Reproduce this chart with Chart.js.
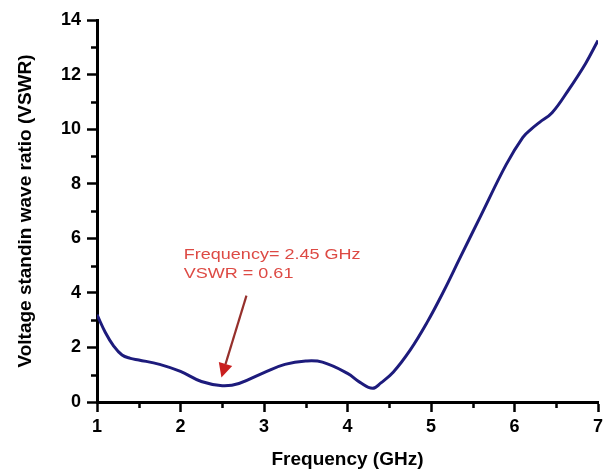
<!DOCTYPE html>
<html>
<head>
<meta charset="utf-8">
<script src="https://cdn.jsdelivr.net/npm/chart.js@4/dist/chart.umd.min.js"></script>
<style>
  html, body { margin: 0; padding: 0; background: #fff; }
  #wrap { width: 608px; height: 475px; }
</style>
</head>
<body>
<div id="wrap"><canvas id="c" width="608" height="475"></canvas></div>
<script>
// Frequency (GHz)
const frequency = [1.0, 1.1, 1.2, 1.3, 1.4, 1.5, 1.75, 2.0, 2.25, 2.5, 2.7, 3.0, 3.25, 3.5, 3.7, 4.0, 4.15, 4.3, 4.4, 4.55, 4.75, 4.95, 5.15, 5.35, 5.6, 5.9, 6.1, 6.2, 6.3, 6.45, 6.65, 6.85, 7.0];
// VSWR
const vswr = [3.2, 2.55, 2.05, 1.72, 1.6, 1.54, 1.38, 1.12, 0.75, 0.6, 0.68, 1.08, 1.38, 1.5, 1.46, 1.05, 0.72, 0.5, 0.7, 1.1, 1.9, 2.9, 4.05, 5.3, 6.85, 8.7, 9.7, 10.0, 10.25, 10.6, 11.45, 12.4, 13.25];
const xTicks = [1, 2, 3, 4, 5, 6, 7];
const yTicks = [0, 2, 4, 6, 8, 10, 12, 14];
const xMinor = [1.5, 2.5, 3.5, 4.5, 5.5, 6.5];
const yMinor = [1, 3, 5, 7, 9, 11, 13];
const annotationLines = ["Frequency= 2.45 GHz", "VSWR = 0.61"];
const annotationAt = { x: 2.04, y: 5.4 };
const arrowFrom = { x: 2.79, y: 3.9 };
const arrowTo = { x: 2.49, y: 0.9 };

const points = frequency.map((f, i) => ({ x: f, y: vswr[i] }));

const extras = {
  id: 'extras',
  afterDraw(chart) {
    const { ctx, scales: { x, y }, chartArea } = chart;
    ctx.save();
    // minor ticks
    ctx.strokeStyle = '#000';
    ctx.lineWidth = 2.5;
    ctx.beginPath();
    yMinor.forEach(v => {
      const py = Math.round(y.getPixelForValue(v)) + 0.5;
      ctx.moveTo(chartArea.left - 6, py);
      ctx.lineTo(chartArea.left, py);
    });
    xMinor.forEach(v => {
      const px = Math.round(x.getPixelForValue(v)) + 0.5;
      ctx.moveTo(px, chartArea.bottom);
      ctx.lineTo(px, chartArea.bottom + 6);
    });
    ctx.stroke();
    // annotation text
    ctx.fillStyle = '#dd4a44';
    ctx.font = '15px "Liberation Sans", Arial, sans-serif';
    ctx.textBaseline = 'middle';
    ctx.textAlign = 'left';
    const tx = x.getPixelForValue(annotationAt.x);
    const ty = y.getPixelForValue(annotationAt.y);
    annotationLines.forEach((t, i) => {
      ctx.save();
      ctx.translate(tx, ty + i * 19);
      ctx.scale(1.2, 1);
      ctx.fillText(t, 0, 0);
      ctx.restore();
    });
    // arrow
    const x0 = x.getPixelForValue(arrowFrom.x), y0 = y.getPixelForValue(arrowFrom.y);
    const x1 = x.getPixelForValue(arrowTo.x), y1 = y.getPixelForValue(arrowTo.y);
    const ang = Math.atan2(y1 - y0, x1 - x0);
    const headLen = 14, headW = 7;
    const bx = x1 - headLen * Math.cos(ang), by = y1 - headLen * Math.sin(ang);
    ctx.strokeStyle = '#96302c';
    ctx.lineWidth = 2.2;
    ctx.beginPath();
    ctx.moveTo(x0, y0);
    ctx.lineTo(bx, by);
    ctx.stroke();
    ctx.fillStyle = '#c91f1f';
    ctx.beginPath();
    ctx.moveTo(x1, y1);
    ctx.lineTo(bx + headW * Math.sin(ang), by - headW * Math.cos(ang));
    ctx.lineTo(bx - headW * Math.sin(ang), by + headW * Math.cos(ang));
    ctx.closePath();
    ctx.fill();
    ctx.restore();
  }
};

const tickFont = { family: '"Liberation Sans", Arial, sans-serif', size: 18, weight: 'bold' };
const titleFont = { family: '"Liberation Sans", Arial, sans-serif', size: 19, weight: 'bold' };

new Chart(document.getElementById('c'), {
  type: 'line',
  data: {
    datasets: [{
      data: points,
      borderColor: '#1d1b7c',
      borderWidth: 3,
      pointRadius: 0,
      tension: 0.4,
      fill: false
    }]
  },
  options: {
    responsive: false,
    animation: false,
    devicePixelRatio: 1,
    layout: { padding: { left: 14, right: 10, top: 20, bottom: 4 } },
    plugins: { legend: { display: false }, tooltip: { enabled: false } },
    scales: {
      x: {
        type: 'linear',
        min: 1, max: 7,
        afterBuildTicks: s => { s.ticks = xTicks.map(v => ({ value: v })); },
        afterFit: s => { s.height = 69; },
        ticks: { color: '#000', font: tickFont, padding: 4, maxRotation: 0 },
        grid: { drawOnChartArea: false, drawTicks: true, tickLength: 10, tickWidth: 2.5, tickColor: '#000' },
        border: { display: true, width: 3, color: '#000' },
        title: { display: true, text: 'Frequency (GHz)', color: '#000', font: titleFont, padding: { top: 0, bottom: 0 } }
      },
      y: {
        min: 0, max: 14,
        afterBuildTicks: s => { s.ticks = yTicks.map(v => ({ value: v })); },
        afterFit: s => { s.width = 83; },
        ticks: { color: '#000', font: tickFont, padding: 6 },
        grid: { drawOnChartArea: false, drawTicks: true, tickLength: 10, tickWidth: 2.5, tickColor: '#000' },
        border: { display: true, width: 3, color: '#000' },
        title: { display: true, text: 'Voltage standin wave ratio (VSWR)', color: '#000', font: titleFont, padding: { top: 0, bottom: 0 } }
      }
    }
  },
  plugins: [extras]
});
</script>
</body>
</html>
